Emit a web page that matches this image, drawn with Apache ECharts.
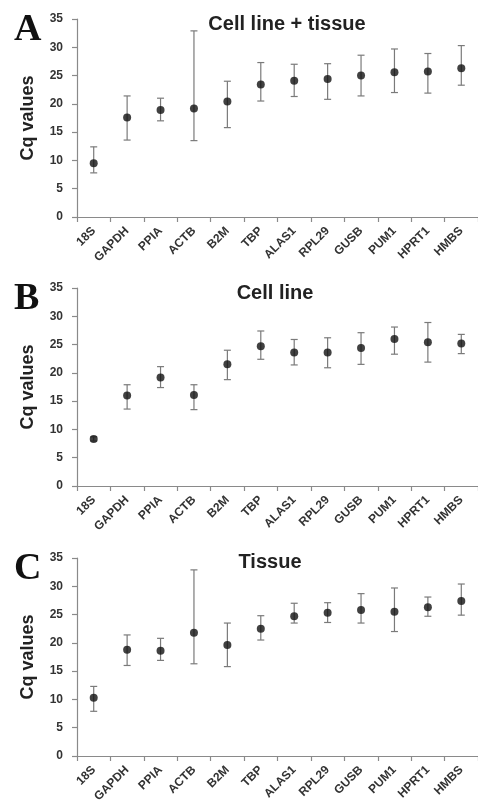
<!DOCTYPE html>
<html>
<head>
    <meta charset="utf-8">
    <title>Cq values</title>
    <script src="https://cdn.jsdelivr.net/npm/echarts@6/dist/echarts.min.js"></script>
    <style>
        html, body { margin: 0; padding: 0; background: #fff; }
        #chart { width: 478px; height: 805px; }
    </style>
</head>
<body>
<div id="chart"></div>
<script>
    // genes on the x axis
    var genes = ['18S', 'GAPDH', 'PPIA', 'ACTB', 'B2M', 'TBP', 'ALAS1', 'RPL29', 'GUSB', 'PUM1', 'HPRT1', 'HMBS'];
    var yTicks = [0, 5, 10, 15, 20, 25, 30, 35];

    // A: cell line + tissue
    var meanA = [9.5, 17.6, 18.9, 19.2, 20.4, 23.4, 24.1, 24.4, 25.0, 25.6, 25.7, 26.3];
    var lowA  = [7.8, 13.6, 17.0, 13.5, 15.8, 20.5, 21.3, 20.8, 21.4, 22.0, 21.9, 23.3];
    var highA = [12.4, 21.4, 21.0, 32.9, 24.0, 27.3, 27.0, 27.1, 28.6, 29.7, 28.9, 30.3];

    // B: cell line
    var meanB = [8.3, 16.0, 19.2, 16.1, 21.5, 24.7, 23.6, 23.6, 24.4, 26.0, 25.4, 25.2];
    var lowB  = [7.95, 13.6, 17.4, 13.5, 18.8, 22.4, 21.4, 20.9, 21.5, 23.3, 21.9, 23.4];
    var highB = [8.7, 17.9, 21.1, 17.9, 24.0, 27.4, 25.9, 26.2, 27.1, 28.1, 28.9, 26.8];

    // C: tissue
    var meanC = [10.3, 18.8, 18.6, 21.8, 19.6, 22.5, 24.7, 25.3, 25.8, 25.5, 26.3, 27.4];
    var lowC  = [7.9, 16.0, 16.9, 16.3, 15.8, 20.5, 23.5, 23.6, 23.5, 22.0, 24.7, 24.9];
    var highC = [12.3, 21.4, 20.8, 32.9, 23.5, 24.8, 27.0, 27.1, 28.7, 29.7, 28.1, 30.4];

    var panels = [
        {letter: 'A', title: 'Cell line + tissue', mean: meanA, low: lowA, high: highA, top: 19, titleX: 287, titleY: 24, letterY: 11},
        {letter: 'B', title: 'Cell line', mean: meanB, low: lowB, high: highB, top: 288, titleX: 275, titleY: 293, letterY: 280},
        {letter: 'C', title: 'Tissue', mean: meanC, low: lowC, high: highC, top: 558, titleX: 270, titleY: 562, letterY: 550}
    ];

    var grids = [], xAxes = [], yAxes = [], series = [], graphics = [];

    function errorBar(params, api) {
        var top = api.coord([api.value(0), api.value(2)]);
        var bot = api.coord([api.value(0), api.value(1)]);
        var cap = 3.5;
        var style = {stroke: '#7a7a7a', lineWidth: 1.2};
        return {
            type: 'group',
            children: [
                {type: 'line', shape: {x1: top[0], y1: top[1], x2: bot[0], y2: bot[1]}, style: style},
                {type: 'line', shape: {x1: top[0] - cap, y1: top[1], x2: top[0] + cap, y2: top[1]}, style: style},
                {type: 'line', shape: {x1: bot[0] - cap, y1: bot[1], x2: bot[0] + cap, y2: bot[1]}, style: style}
            ]
        };
    }

    panels.forEach(function (p, i) {
        // the plot runs past the right edge of the picture
        grids.push({left: 77, width: 413, top: p.top, height: 198});
        xAxes.push({
            type: 'category', gridIndex: i, data: genes, boundaryGap: true,
            axisLine: {lineStyle: {color: '#8a8a8a', width: 1.2}},
            axisTick: {show: true, length: 5, lineStyle: {color: '#8a8a8a', width: 1.2}},
            axisLabel: {
                interval: 0, rotate: 45, fontSize: 12, fontWeight: 'bold', color: '#333',
                fontFamily: 'Liberation Sans', margin: 12
            }
        });
        yAxes.push({
            type: 'value', gridIndex: i, min: yTicks[0], max: yTicks[yTicks.length - 1], interval: 5,
            name: 'Cq values', nameLocation: 'middle', nameGap: 40,
            nameTextStyle: {fontSize: 18, fontWeight: 'bold', color: '#222', fontFamily: 'Liberation Sans'},
            axisLine: {show: true, lineStyle: {color: '#8a8a8a', width: 1.2}},
            axisTick: {show: true, length: 5, lineStyle: {color: '#8a8a8a', width: 1.2}},
            splitLine: {show: false},
            axisLabel: {fontSize: 12, fontWeight: 'bold', color: '#333', fontFamily: 'Liberation Sans', margin: 14}
        });
        series.push({
            type: 'custom', xAxisIndex: i, yAxisIndex: i,
            data: genes.map(function (g, k) { return [k, p.low[k], p.high[k]]; }),
            renderItem: errorBar, z: 1
        });
        series.push({
            type: 'scatter', xAxisIndex: i, yAxisIndex: i,
            data: genes.map(function (g, k) { return [k, p.mean[k]]; }),
            symbolSize: 8, itemStyle: {color: '#111'}, z: 3
        });
        graphics.push({
            type: 'text', left: 14, top: p.letterY,
            style: {text: p.letter, font: 'bold 38px "Liberation Serif"', fill: '#111'}
        });
        graphics.push({
            type: 'text', x: p.titleX, y: p.titleY,
            style: {text: p.title, font: 'bold 20px "Liberation Sans"', fill: '#222', align: 'center', verticalAlign: 'middle'}
        });
    });

    var myChart = echarts.init(document.getElementById('chart'));
    myChart.setOption({
        animation: false,
        backgroundColor: '#fff',
        grid: grids,
        xAxis: xAxes,
        yAxis: yAxes,
        series: series,
        graphic: graphics
    });
</script>
</body>
</html>
